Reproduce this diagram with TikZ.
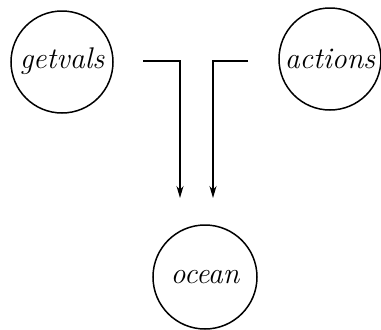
\documentclass[tikz,border=0pt]{standalone}
\usetikzlibrary{arrows.meta}
\begin{document}
\begin{tikzpicture}[x=1bp,y=-1bp,
  proc/.style={draw,circle,line width=1.5bp,minimum size=102bp,inner sep=0pt,font=\fontsize{30}{34}\selectfont\itshape},
  flow/.style={line width=1.5bp,-{Stealth[length=12bp,width=7bp]}}]
\useasboundingbox (0,0) rectangle (381,330);
\node[proc] (getvals) at (62,62) {\raisebox{7bp}{getvals}};
\node[proc] (actions) at (330,59) {actions};
\node[proc,minimum size=104bp] (ocean) at (205,277) {ocean};
\coordinate (gs) at (143,61);
\coordinate (ge) at (180,198);
\coordinate (as) at (248,61);
\coordinate (ae) at (213,198);
\draw[flow] (gs) -| (ge);
\draw[flow] (as) -| (ae);
\end{tikzpicture}
\end{document}
